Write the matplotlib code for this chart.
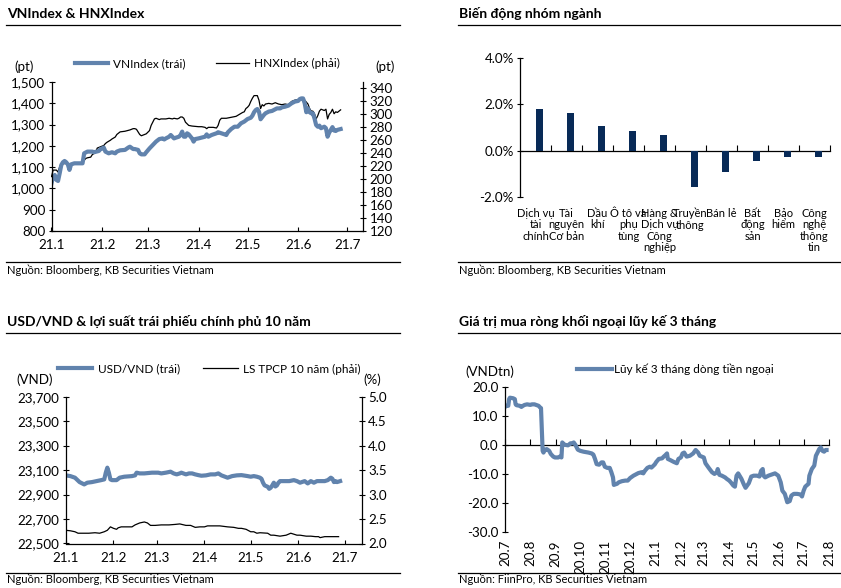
import matplotlib
matplotlib.use('Agg')
import matplotlib.pyplot as plt
import matplotlib.dates as mdates
from matplotlib.lines import Line2D
from matplotlib.ticker import FuncFormatter
import numpy as np
import pandas as pd

plt.rcParams['font.family'] = ['Lato', 'Noto Sans', 'DejaVu Sans']

# ---------------- DATA ----------------
# VNIndex / HNXIndex: day offset from 2021-01-01
vn_day = [0, 1, 2, 3, 4, 5, 6, 7, 8, 9, 10, 11, 12, 14, 17, 19, 20, 22, 25, 26, 29, 30, 31, 32, 33, 35,
          37, 39, 40, 42, 45, 47, 48, 50, 51, 53, 54, 55, 57, 58, 60, 62, 64, 66, 68, 69, 70, 72, 73, 74,
          75, 76, 78, 79, 80, 81, 82, 83, 84, 86, 87, 88, 90, 92, 94, 95, 96, 98, 101, 102, 104, 106, 107,
          108, 110, 112, 114, 116, 118, 120, 122, 123, 124, 125, 126, 127, 128, 130, 131, 133, 135, 136,
          138, 140, 141, 143, 145, 147, 149, 151, 152, 153, 154, 155, 156, 157, 158, 159, 160, 161, 162,
          163, 164, 165, 167, 168, 169, 170, 171, 172, 173, 174, 175, 177]
vn_val = [1024, 1055, 1063, 1040, 1035, 1071, 1110, 1123, 1129, 1123, 1113, 1087, 1113, 1118, 1118, 1118,
          1165, 1173, 1173, 1170, 1176, 1185, 1188, 1192, 1173, 1165, 1170, 1165, 1173, 1179, 1181, 1192,
          1196, 1185, 1185, 1181, 1165, 1160, 1160, 1170, 1188, 1204, 1220, 1232, 1235, 1230, 1235, 1243,
          1251, 1243, 1235, 1238, 1243, 1251, 1267, 1243, 1243, 1259, 1254, 1235, 1220, 1232, 1235, 1239,
          1243, 1254, 1243, 1251, 1259, 1264, 1259, 1254, 1251, 1264, 1279, 1290, 1290, 1306, 1314, 1326,
          1332, 1342, 1358, 1368, 1373, 1361, 1325, 1345, 1353, 1361, 1364, 1368, 1376, 1376, 1381, 1384,
          1389, 1400, 1408, 1411, 1420, 1423, 1423, 1400, 1358, 1376, 1358, 1353, 1353, 1329, 1298, 1290,
          1295, 1283, 1290, 1283, 1243, 1262, 1275, 1288, 1272, 1270, 1275, 1279]

hnx_day = [0, 1, 3, 4, 5, 6, 10, 18, 20, 21, 22, 24, 25, 27, 28, 30, 32, 33, 34, 36, 37, 39, 40, 42, 45,
           48, 50, 51, 52, 53, 54, 55, 56, 58, 60, 61, 62, 63, 64, 66, 67, 70, 72, 74, 75, 77, 78, 79, 80,
           81, 82, 84, 86, 88, 90, 92, 94, 95, 96, 99, 101, 102, 103, 104, 107, 109, 111, 113, 115, 117,
           118, 119, 120, 121, 122, 123, 124, 126, 127, 128, 129, 130, 131, 133, 135, 137, 139, 141, 143,
           145, 147, 149, 151, 153, 155, 157, 158, 159, 160, 161, 162, 163, 164, 165, 167, 168, 169, 170,
           171, 172, 173, 174, 175, 176, 177]
hnx_val = [204, 214, 214, 211, 219, 224, 224, 224, 229, 232, 233, 234, 238, 241, 248, 250, 252, 255, 257,
           260, 262, 265, 269, 273, 274, 276, 278, 278, 277, 273, 269, 267, 268, 270, 275, 283, 288, 293,
           294, 292, 293, 293, 294, 293, 294, 293, 294, 296, 296, 294, 288, 283, 282, 281.5, 281, 281, 280,
           278, 280, 280, 279, 283, 291, 294, 294, 295, 296, 297, 300, 303, 304, 309, 311, 314, 320, 325,
           329, 329, 322, 309, 315, 313, 316, 317, 316, 318, 316, 315, 316, 315, 320, 322, 323, 324, 322,
           316, 309, 305, 305, 301, 293, 298, 305, 308, 306, 308, 293, 300, 303, 308, 301, 304, 303, 305, 307]

# Sector performance
sectors = ["Dịch vụ\ntài\nchính", "Tài\nnguyên\nCơ bản", "Dầu\nkhí", "Ô tô và\nphụ\ntùng",
           "Hàng &\nDịch vụ\nCông\nnghiệp", "Truyền\nthông", "Bán lẻ", "Bất\nđộng\nsản", "Bảo\nhiểm",
           "Công\nnghệ\nthông\ntin"]
sector_chg = [1.81, 1.61, 1.08, 0.83, 0.68, -1.57, -0.92, -0.46, -0.26, -0.26]

# USD/VND and 10Y gov bond yield: day offset from 2021-01-01
fx_day = [0, 3, 6, 9, 12, 14, 17, 20, 23, 25, 26, 27, 28, 29, 30, 33, 35, 38, 43, 45, 46, 48, 51, 56, 60,
          62, 65, 68, 70, 72, 74, 75, 78, 80, 82, 84, 86, 88, 91, 94, 97, 99, 101, 105, 108, 111, 114, 118,
          120, 122, 124, 126, 127, 128, 129, 131, 132, 133, 134, 135, 136, 137, 138, 139, 142, 145, 148,
          150, 152, 155, 157, 159, 161, 163, 165, 168, 170, 172, 173, 174, 175, 176, 178]
fx_val = [23057, 23051, 23038, 23002, 22983, 22997, 23002, 23010, 23018, 23024, 23079, 23120, 23079, 23024,
          23018, 23018, 23038, 23046, 23051, 23057, 23079, 23073, 23073, 23079, 23079, 23073, 23079, 23087,
          23073, 23065, 23073, 23079, 23065, 23073, 23073, 23065, 23059, 23054, 23057, 23065, 23065, 23073,
          23057, 23038, 23051, 23057, 23059, 23051, 23046, 23051, 23046, 23038, 23029, 22997, 22975, 22964,
          22947, 22956, 22975, 22997, 22966, 22975, 22997, 23010, 23010, 23010, 23018, 23010, 22997, 23010,
          22991, 23010, 22997, 23010, 23010, 23010, 23018, 23038, 23029, 23002, 23010, 23002, 23010]

yld_day = [0, 3, 6, 8, 10, 15, 19, 22, 25, 27, 29, 31, 33, 34, 36, 40, 43, 45, 48, 51, 53, 55, 58, 62, 67,
           71, 74, 78, 81, 84, 87, 90, 92, 96, 100, 105, 109, 112, 114, 117, 120, 122, 124, 126, 131, 133,
           135, 139, 143, 146, 148, 150, 152, 156, 159, 162, 164, 165, 168, 172, 177]
yld_val = [2.27, 2.26, 2.24, 2.21, 2.21, 2.21, 2.22, 2.21, 2.24, 2.27, 2.34, 2.31, 2.29, 2.32, 2.34, 2.34,
           2.34, 2.38, 2.42, 2.44, 2.42, 2.37, 2.37, 2.38, 2.38, 2.39, 2.40, 2.37, 2.37, 2.33, 2.34, 2.34,
           2.36, 2.36, 2.36, 2.34, 2.33, 2.31, 2.31, 2.29, 2.24, 2.24, 2.21, 2.22, 2.21, 2.17, 2.17, 2.15,
           2.17, 2.21, 2.19, 2.17, 2.17, 2.15, 2.15, 2.14, 2.14, 2.12, 2.14, 2.14, 2.14]

# Foreign net buying, 3-month cumulative: day offset from 2020-07-01
ff_day = [0, 2, 4, 5, 6, 10, 12, 13, 14, 18, 20, 22, 24, 27, 31, 33, 36, 39, 41, 43, 44, 45, 46, 47, 49,
          51, 54, 56, 59, 61, 65, 67, 69, 70, 71, 73, 77, 80, 82, 84, 86, 89, 92, 96, 102, 106, 108, 110,
          112, 115, 118, 120, 122, 125, 128, 130, 132, 133, 137, 139, 143, 147, 150, 153, 157, 161, 163,
          167, 169, 171, 174, 177, 179, 183, 185, 188, 192, 194, 196, 198, 199, 202, 206, 210, 212, 215,
          217, 219, 222, 226, 230, 233, 236, 238, 243, 245, 249, 253, 256, 259, 260, 262, 265, 269, 271,
          274, 276, 279, 281, 283, 285, 289, 292, 294, 298, 301, 304, 308, 311, 313, 315, 316, 318, 322,
          326, 330, 334, 337, 339, 342, 345, 348, 350, 353, 357, 361, 363, 365, 367, 371, 372, 375, 378,
          380, 382, 384, 386, 388, 390, 392, 393]
ff_val = [13.2, 13.6, 13.6, 15.9, 16.4, 16.2, 15.9, 14.1, 13.8, 13.6, 13.2, 13.6, 13.9, 14.1, 13.9, 14.1,
          14.1, 13.8, 13.6, 13.0, 12.8, 4.9, -2.0, -2.6, -1.6, -1.4, -2.0, -3.1, -4.0, -4.3, -4.3, -4.0,
          -4.3, 0.9, 0.6, 0.1, -0.1, 0.6, 0.6, 0.9, 0.1, -1.6, -2.0, -2.3, -2.6, -2.9, -3.3, -4.8, -6.6,
          -6.8, -6.0, -6.0, -7.5, -7.9, -7.9, -9.4, -11.2, -13.8, -13.4, -12.9, -12.5, -12.3, -12.3, -11.4,
          -10.6, -10.0, -9.7, -9.4, -9.8, -8.9, -7.9, -7.5, -7.8, -6.7, -5.8, -4.8, -4.6, -4.0, -3.5, -2.9,
          -4.8, -5.2, -5.8, -6.3, -4.8, -4.3, -2.9, -2.6, -4.0, -3.7, -2.9, -1.7, -2.6, -3.7, -4.3, -6.3,
          -7.9, -9.4, -10.0, -9.4, -8.3, -10.3, -10.6, -11.2, -11.7, -12.3, -12.9, -14.0, -14.4, -10.6,
          -9.8, -11.7, -13.7, -14.8, -13.2, -10.9, -10.6, -10.6, -10.9, -8.9, -8.3, -10.6, -11.2, -10.6,
          -10.2, -9.8, -10.6, -12.9, -15.8, -16.9, -19.8, -19.4, -17.5, -16.9, -16.9, -17.1, -17.8, -15.8,
          -14.4, -13.4, -10.6, -8.3, -7.1, -3.7, -2.6, -1.4, -0.8, -2.0, -2.3, -1.7, -1.7]

# ---------------- STYLE / LAYOUT ----------------
BLUE = '#6183ad'
NAVY = '#082a57'
W, H = 841, 588
FS = 8.5      # legend / unit labels
TFS = 9.6     # tick labels
CFS = 8.0     # category labels

fig = plt.figure(figsize=(W / 100, H / 100), dpi=100)


def fx(px):
    return px / W


def fy(py):
    return 1 - py / H


def rect(l, t, r, b):
    return [fx(l), fy(b), (r - l) / W, (b - t) / H]


def hrule(x0, x1, y):
    fig.add_artist(Line2D([fx(x0), fx(x1)], [fy(y), fy(y)], color='black', lw=0.9,
                          transform=fig.transFigure))


def month_fmt(x, pos):
    d = mdates.num2date(x)
    return f"{d.year % 100}.{d.month}"


def panel_frame(x0, x1, t_y, rule_y, src_rule_y, src_y, title, source):
    fig.text(fx(x0 + 1), fy(t_y), title, fontsize=10, fontweight='bold', ha='left', va='center')
    hrule(x0, x1, rule_y)
    hrule(x0, x1, src_rule_y)
    fig.text(fx(x0 + 1), fy(src_y), source, fontsize=8, ha='left', va='center')


panel_frame(6, 400, 13.5, 25, 262.3, 270, "VNIndex & HNXIndex",
            "Nguồn: Bloomberg, KB Securities Vietnam")
panel_frame(458, 840.5, 13.5, 25, 262.3, 270, "Biến động nhóm ngành",
            "Nguồn: Bloomberg, KB Securities Vietnam")
panel_frame(6, 400, 321, 333.3, 572.7, 579.5, "USD/VND & lợi suất trái phiếu chính phủ 10 năm",
            "Nguồn: Bloomberg, KB Securities Vietnam")
panel_frame(458, 840.5, 321, 333.3, 572.7, 579.5, "Giá trị mua ròng khối ngoại lũy kế 3 tháng",
            "Nguồn: FiinPro, KB Securities Vietnam")

base21 = pd.Timestamp('2021-01-01')
base20 = pd.Timestamp('2020-07-01')


def to_dates(base, days):
    return base + pd.to_timedelta(days, unit='D')


def style_dual(ax, axr):
    for s in ['top', 'right']:
        ax.spines[s].set_visible(False)
    for s in ['top', 'left', 'bottom']:
        axr.spines[s].set_visible(False)
    ax.tick_params(axis='y', direction='inout', length=5, width=0.8, pad=2, labelsize=TFS)
    axr.tick_params(axis='y', direction='inout', length=5, width=0.8, pad=2, labelsize=TFS)
    ax.tick_params(axis='x', direction='in', length=3, width=0.8, pad=6, labelsize=TFS)
    ax.xaxis.set_major_locator(mdates.MonthLocator())
    ax.xaxis.set_major_formatter(FuncFormatter(month_fmt))
    for sp in ax.spines.values():
        sp.set_linewidth(0.9)
    for sp in axr.spines.values():
        sp.set_linewidth(0.9)


def legend(ax, handles, labels, x, y, hl, tp, cs):
    ax.legend(handles, labels, ncol=len(handles), frameon=False, loc='center left',
              bbox_to_anchor=(fx(x), fy(y)), bbox_transform=fig.transFigure, borderpad=0,
              borderaxespad=0, handlelength=hl, handletextpad=tp, columnspacing=cs, fontsize=FS)


# ---------------- Panel 1: VNIndex & HNXIndex ----------------
ax1 = fig.add_axes(rect(51.5, 82, 363.5, 231))
ax1r = ax1.twinx()
l1, = ax1.plot(to_dates(base21, vn_day), vn_val, color=BLUE, lw=3.0, solid_joinstyle='round')
l2, = ax1r.plot(to_dates(base21, hnx_day), hnx_val, color='black', lw=0.9)
ax1.set_xlim(base21, pd.Timestamp('2021-07-11'))
ax1.set_ylim(800, 1500)
ax1r.set_ylim(120, 350)
ax1.set_yticks(range(800, 1501, 100))
ax1.yaxis.set_major_formatter(FuncFormatter(lambda v, p: f"{v:,.0f}"))
ax1r.set_yticks(range(120, 341, 20))
style_dual(ax1, ax1r)
ax1.set_zorder(ax1r.get_zorder() + 1)
ax1.patch.set_visible(False)
legend(ax1r, [l1, l2], ["VNIndex (trái)", "HNXIndex (phải)"], 75, 63.3, 2.8, 0.4, 2.6)
fig.text(fx(24), fy(66.7), "(pt)", fontsize=TFS, ha='center', va='center')
fig.text(fx(385), fy(67), "(pt)", fontsize=TFS, ha='center', va='center')

# ---------------- Panel 2: sector bars ----------------
ax2 = fig.add_axes(rect(520, 58.3, 830, 196.7))
xs = np.arange(len(sectors))
ax2.bar(xs + 0.13, sector_chg, width=0.24, color=NAVY)
ax2.set_xlim(-0.5, len(sectors) - 0.5)
ax2.set_ylim(-2, 4)
ax2.set_yticks([-2, 0, 2, 4])
ax2.yaxis.set_major_formatter(FuncFormatter(lambda v, p: f"{v:.1f}%"))
for s in ['top', 'right', 'bottom']:
    ax2.spines[s].set_visible(False)
ax2.spines['left'].set_linewidth(0.9)
ax2.tick_params(axis='y', direction='inout', length=5, width=0.8, pad=2, labelsize=TFS)
ax2.set_xticks(xs)
ax2.set_xticklabels(sectors, fontsize=CFS, linespacing=1.04, va='top')
ax2.tick_params(axis='x', length=0, pad=8)
sec2 = ax2.secondary_xaxis(2 / 6)
sec2.set_xticks(np.arange(0.5, len(sectors), 1))
sec2.tick_params(axis='x', direction='in', length=4, width=0.8, labelbottom=False, labeltop=False)
sec2.spines['bottom'].set_linewidth(0.9)

# ---------------- Panel 3: USD/VND & bond yield ----------------
ax3 = fig.add_axes(rect(65.7, 396.7, 361.7, 543.5))
ax3r = ax3.twinx()
l3, = ax3.plot(to_dates(base21, fx_day), fx_val, color=BLUE, lw=3.0, solid_joinstyle='round')
l4, = ax3r.plot(to_dates(base21, yld_day), yld_val, color='black', lw=0.9)
ax3.set_xlim(base21, pd.Timestamp('2021-07-12'))
ax3.set_ylim(22500, 23700)
ax3.set_yticks(range(22500, 23701, 200))
ax3.yaxis.set_major_formatter(FuncFormatter(lambda v, p: f"{v:,.0f}"))
ax3r.set_ylim(2.0, 5.0)
ax3r.set_yticks(np.arange(2.0, 5.01, 0.5))
ax3r.yaxis.set_major_formatter(FuncFormatter(lambda v, p: f"{v:.1f}"))
style_dual(ax3, ax3r)
ax3.set_zorder(ax3r.get_zorder() + 1)
ax3.patch.set_visible(False)
legend(ax3r, [l3, l4], ["USD/VND (trái)", "LS TPCP 10 năm (phải)"], 58, 369, 2.9, 0.45, 2.0)
fig.text(fx(35), fy(380), "(VND)", fontsize=TFS, ha='center', va='center')
fig.text(fx(372.5), fy(380), "(%)", fontsize=TFS, ha='center', va='center')

# ---------------- Panel 4: foreign flows ----------------
ax4 = fig.add_axes(rect(505, 387.3, 829, 531.7))
l5, = ax4.plot(to_dates(base20, ff_day), ff_val, color=BLUE, lw=3.0, solid_joinstyle='round')
ax4.set_xlim(base20, pd.Timestamp('2021-08-01'))
ax4.set_ylim(-30, 20)
ax4.set_yticks(range(-30, 21, 10))
ax4.yaxis.set_major_formatter(FuncFormatter(lambda v, p: f"{v:.1f}"))
for s in ['top', 'right', 'bottom']:
    ax4.spines[s].set_visible(False)
ax4.spines['left'].set_linewidth(0.9)
ax4.tick_params(axis='y', direction='inout', length=5, width=0.8, pad=2, labelsize=TFS)
ax4.xaxis.set_major_locator(mdates.MonthLocator())
ax4.xaxis.set_major_formatter(FuncFormatter(month_fmt))
ax4.tick_params(axis='x', length=0, pad=6, labelsize=TFS, labelrotation=90)
sec4 = ax4.secondary_xaxis(30 / 50)
sec4.xaxis.set_major_locator(mdates.MonthLocator())
sec4.tick_params(axis='x', which='both', direction='out', length=4, width=0.8,
                 labelbottom=False, labeltop=False)
for sp in sec4.spines.values():
    sp.set_linewidth(0.9)
legend(ax4, [l5], ["Lũy kế 3 tháng dòng tiền ngoại"], 576.7, 369, 3.0, 0.2, 1.0)
fig.text(fx(490.3), fy(371.7), "(VNDtn)", fontsize=TFS, ha='center', va='center')

fig.savefig('out.png', dpi=100)
